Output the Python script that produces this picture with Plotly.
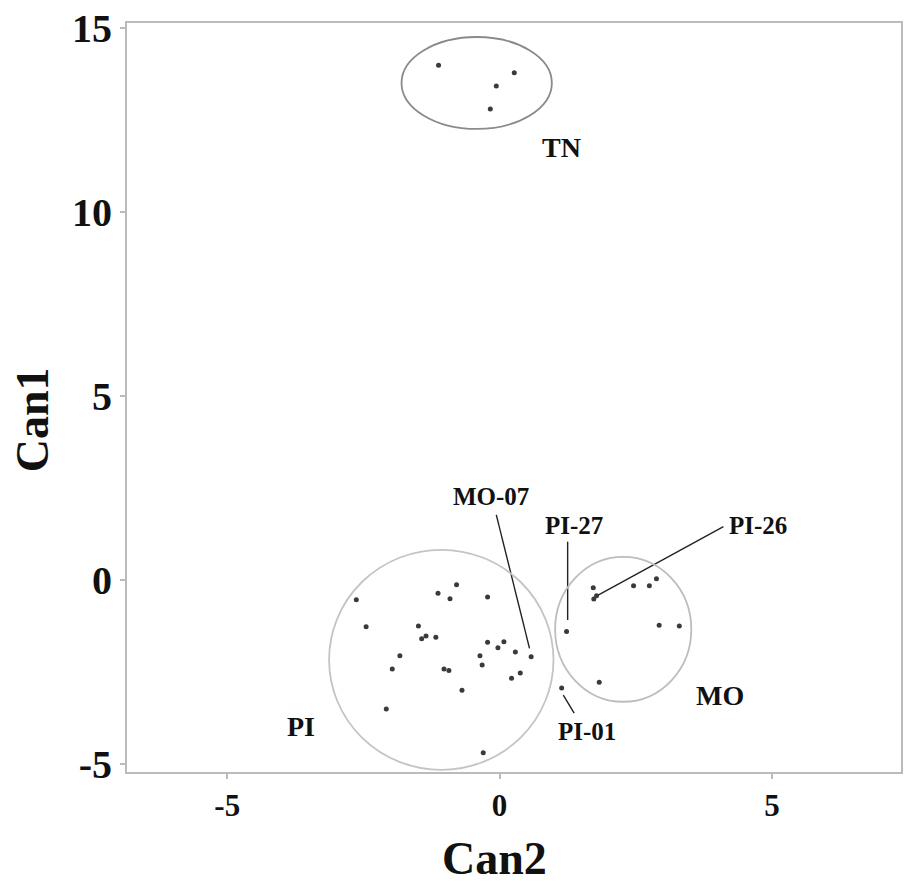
import plotly.graph_objects as go

# ---- data ----
tn_x = [-1.12, 0.27, -0.06, -0.17]
tn_y = [13.99, 13.79, 13.43, 12.80]

pi_x = [-2.63, -2.45, -2.08, -1.97, -1.83, -1.49, -1.43, -1.35, -1.17, -1.13,
        -0.91, -0.79, -1.02, -0.93, -0.69, -0.30, -0.22, -0.36, -0.32, -0.22,
        -0.03, 0.08, 0.29, 0.22, 0.38, 0.58, 1.23, 1.14]
pi_y = [-0.54, -1.27, -3.51, -2.42, -2.06, -1.25, -1.60, -1.52, -1.56, -0.36,
        -0.51, -0.13, -2.42, -2.46, -3.00, -4.70, -0.46, -2.06, -2.31, -1.69,
        -1.84, -1.68, -1.96, -2.67, -2.53, -2.09, -1.40, -2.94]

mo_x = [1.72, 1.73, 1.78, 2.46, 2.75, 2.88, 2.93, 3.30, 1.83]
mo_y = [-0.21, -0.52, -0.43, -0.16, -0.16, 0.03, -1.23, -1.25, -2.78]

# group ellipses: name, center x, center y, radius x, radius y
ell_names = ["TN", "PI", "MO"]
ell_cx = [-0.42, -1.07, 2.27]
ell_cy = [13.51, -2.17, -1.34]
ell_rx = [1.38, 2.06, 1.25]
ell_ry = [1.25, 2.99, 1.97]
ell_color = ["#8a8a8a", "#c4c4c4", "#bdbdbd"]

# group labels
grp_text = ["TN", "PI", "MO"]
grp_x = [1.13, -3.64, 4.05]
grp_y = [11.75, -3.97, -3.13]

# callout labels and leader lines
call_text = ["MO-07", "PI-27", "PI-26", "PI-01"]
call_x = [-0.16, 1.36, 4.74, 1.61]
call_y = [2.28, 1.47, 1.47, -4.13]
lead_x0 = [-0.06, 1.25, 4.11, 1.17]
lead_y0 = [1.77, 1.04, 1.45, -3.13]
lead_x1 = [0.55, 1.25, 1.81, 1.37]
lead_y1 = [-1.86, -1.09, -0.41, -3.62]

x_ticks = [-5, 0, 5]
y_ticks = [-5, 0, 5, 10, 15]

FONT = "Liberation Serif"

fig = go.Figure()

all_x = tn_x + pi_x + mo_x
all_y = tn_y + pi_y + mo_y
fig.add_trace(go.Scatter(x=all_x, y=all_y, mode="markers",
                         marker=dict(size=5, color="#3a3a3a"),
                         showlegend=False, hoverinfo="skip"))

for x0, y0, x1, y1 in zip(lead_x0, lead_y0, lead_x1, lead_y1):
    fig.add_trace(go.Scatter(x=[x0, x1], y=[y0, y1], mode="lines",
                             line=dict(color="#222222", width=1.4),
                             showlegend=False, hoverinfo="skip"))

for cx, cy, rx, ry, col in zip(ell_cx, ell_cy, ell_rx, ell_ry, ell_color):
    fig.add_shape(type="circle", xref="x", yref="y",
                  x0=cx - rx, x1=cx + rx, y0=cy - ry, y1=cy + ry,
                  line=dict(color=col, width=1.8))

for t, x, y in zip(grp_text, grp_x, grp_y):
    fig.add_annotation(x=x, y=y, text=t, showarrow=False,
                       font=dict(family=FONT, size=28, color="#111111", weight="bold"))

for t, x, y in zip(call_text, call_x, call_y):
    fig.add_annotation(x=x, y=y, text=t, showarrow=False,
                       font=dict(family=FONT, size=25, color="#111111", weight="bold"))

# axis titles
fig.add_annotation(xref="paper", yref="paper", x=0.475, y=-0.115, text="Can2",
                   showarrow=False, yanchor="middle",
                   font=dict(family=FONT, size=46, color="#111111", weight="bold"))
fig.add_annotation(xref="paper", yref="paper", x=-0.121, y=0.47, text="Can1",
                   showarrow=False, textangle=-90, xanchor="center",
                   font=dict(family=FONT, size=46, color="#111111", weight="bold"))

fig.update_xaxes(range=[-6.84, 7.37], tickvals=x_ticks, ticktext=[str(v) for v in x_ticks],
                 showgrid=False, zeroline=False, showline=True, mirror=True,
                 linecolor="#bbbbbb", linewidth=2, ticks="outside", ticklen=5,
                 tickcolor="#bbbbbb", tickwidth=1.5, automargin=False,
                 ticklabeloverflow="allow",
                 tickfont=dict(family=FONT, size=31, color="#111111", weight="bold"))
fig.update_yaxes(range=[-5.22, 15.14], tickvals=y_ticks, ticktext=[str(v) for v in y_ticks],
                 showgrid=False, zeroline=False, showline=True, mirror=True,
                 linecolor="#bbbbbb", linewidth=2, ticks="outside", ticklen=5,
                 tickcolor="#bbbbbb", tickwidth=1.5, automargin=False,
                 ticklabeloverflow="allow",
                 tickfont=dict(family=FONT, size=40, color="#111111", weight="bold"))

fig.update_layout(width=907, height=891,
                  margin=dict(l=127, r=6, t=23, b=119),
                  plot_bgcolor="white", paper_bgcolor="white",
                  showlegend=False)

# remove the default 8px page margin so the figure fills the window exactly
fig.write_html("out.html",
               config={"displayModeBar": False},
               post_script="document.body.style.margin='0px';document.body.style.overflow='hidden';")
